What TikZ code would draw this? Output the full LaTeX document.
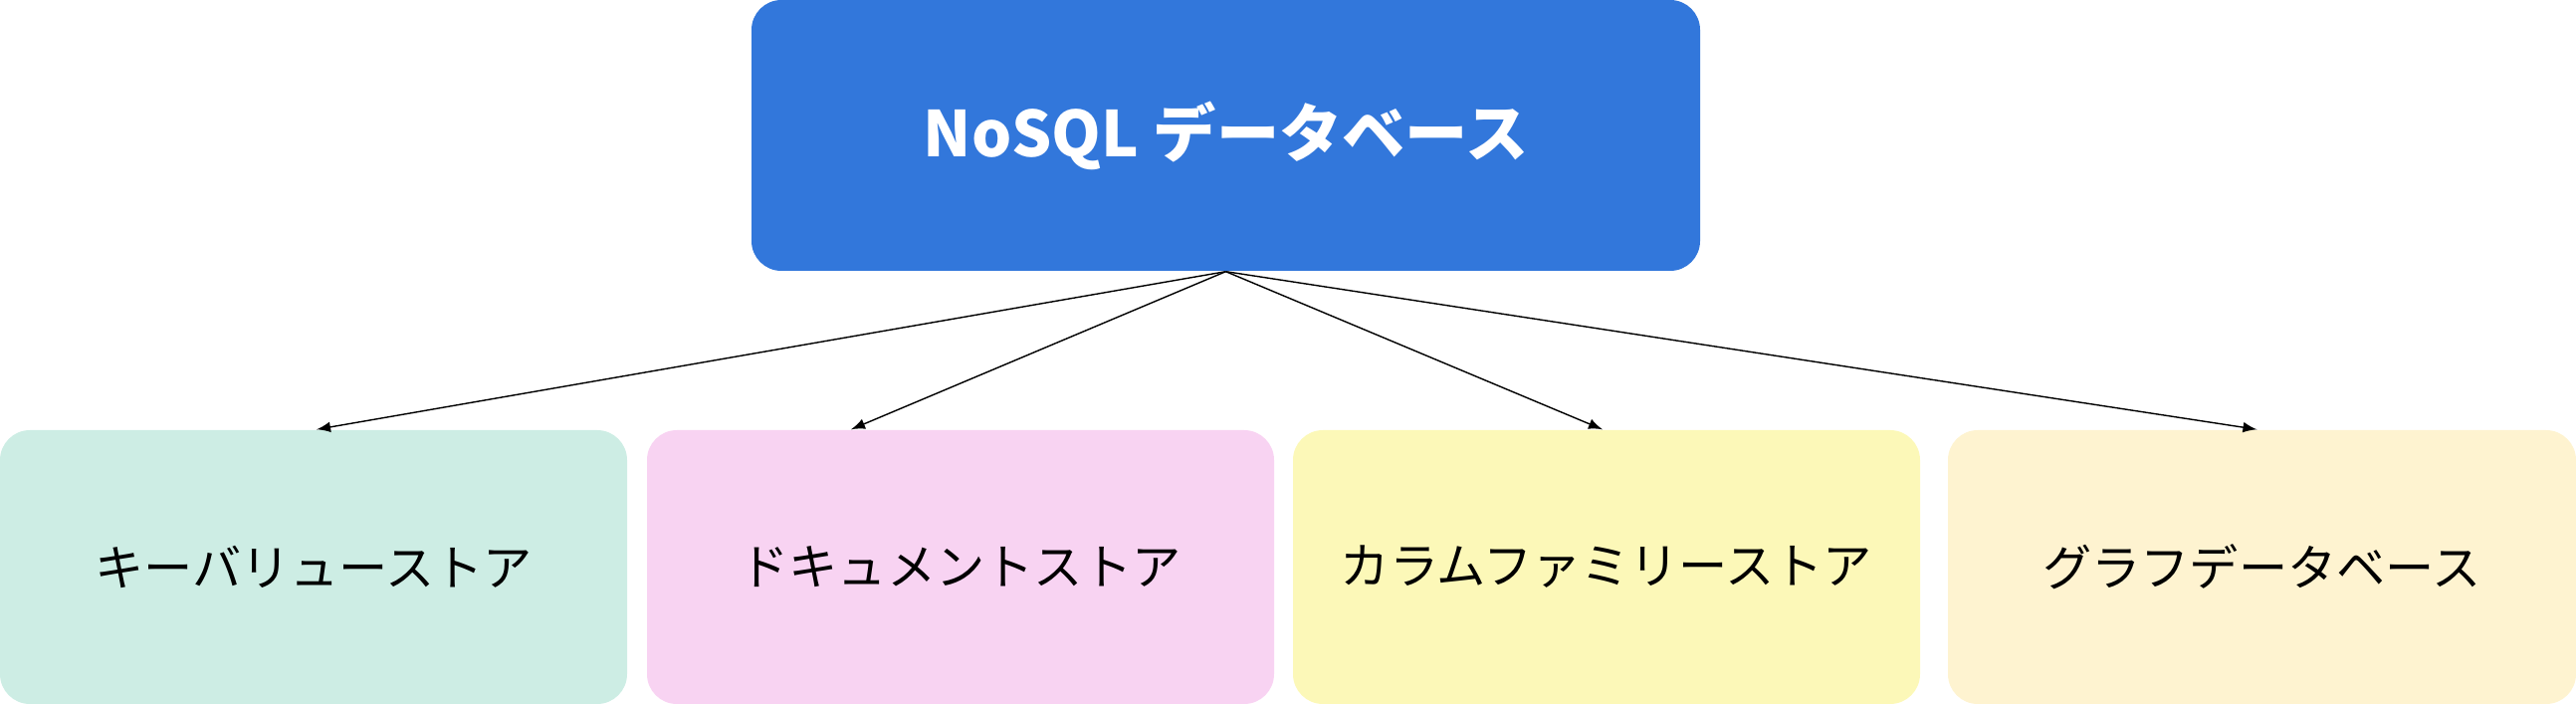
\documentclass[tikz,border=0pt]{standalone}
\usepackage{fontspec}
\newfontfamily\jpfont{Noto Sans CJK JP}
\usetikzlibrary{positioning}
\definecolor{topblue}{HTML}{3277DB}
\definecolor{kvgreen}{HTML}{CDEDE4}
\definecolor{docpink}{HTML}{F8D3F2}
\definecolor{colyellow}{HTML}{FCF8B8}
\definecolor{graphcream}{HTML}{FEF3D0}
\tikzset{
  storebox/.style={rounded corners=0.3cm, minimum width=6.3cm, minimum height=2.75cm,
    font=\jpfont\fontsize{14}{16}\selectfont, inner sep=0pt},
  link/.style={-latex, thin}
}
\begin{document}
\begin{tikzpicture}
\useasboundingbox (0,0) rectangle (25.88,7.07);
\node[rounded corners=0.3cm, fill=topblue, minimum width=9.53cm, minimum height=2.72cm,
  text=white, font=\jpfont\bfseries\fontsize{18}{20}\selectfont] (nosql) at (12.315,5.71) {NoSQL データベース};

\node[storebox, fill=kvgreen] (kv) at (3.15,1.375) {キーバリューストア};
\node[storebox, fill=docpink] (doc) at (9.65,1.375) {ドキュメントストア};
\node[storebox, fill=colyellow] (col) at (16.14,1.375) {カラムファミリーストア};
\node[storebox, fill=graphcream, minimum width=6.31cm] (graph) at (22.725,1.375) {グラフデータベース};

\draw[link] (nosql.south) -- ([xshift=0.03cm]kv.north);
\draw[link] (nosql.south) -- ([xshift=-1.1cm]doc.north);
\draw[link] (nosql.south) -- ([xshift=-0.04cm]col.north);
\draw[link] (nosql.south) -- ([xshift=-0.05cm]graph.north);
\end{tikzpicture}
\end{document}
